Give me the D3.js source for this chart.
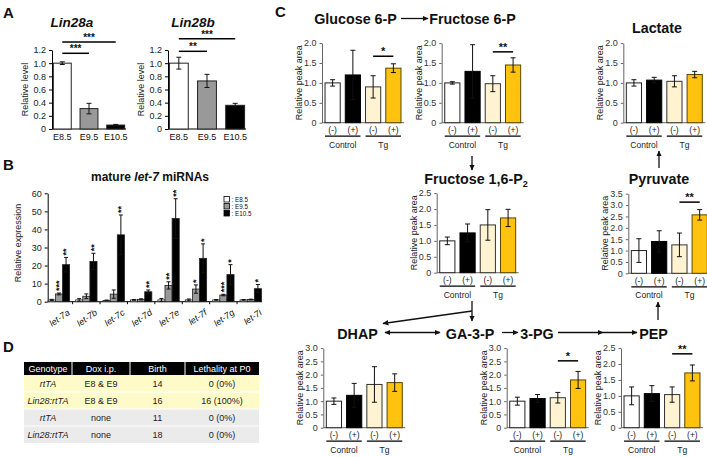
<!DOCTYPE html>
<html><head><meta charset="utf-8">
<script src="https://cdn.jsdelivr.net/npm/d3@7"></script>
<style>body{margin:0;background:#fff}svg{display:block}</style>
</head><body>
<svg id="fig" width="707" height="457"></svg>
<script>
// ---------------- DATA ----------------
// Panel A
const lin28Stages = ["E8.5", "E9.5", "E10.5"];
const lin28aMean = [1.0, 0.31, 0.06];
const lin28aErr  = [0.02, 0.08, 0.01];
const lin28bMean = [1.0, 0.73, 0.36];
const lin28bErr  = [0.09, 0.10, 0.03];
const lin28Ticks = [0, 0.2, 0.4, 0.6, 0.8, 1.0, 1.2];
const lin28aSig = [{a: 0, b: 1, level: 1.15, label: "***"}, {a: 0, b: 2, level: 1.32, label: "***"}];
const lin28bSig = [{a: 0, b: 1, level: 1.18, label: "**"}, {a: 0, b: 2, level: 1.37, label: "***"}];

// Panel B
const let7Names  = ["let-7a", "let-7b", "let-7c", "let-7d", "let-7e", "let-7f", "let-7g", "let-7i"];
const let7Stages = ["E8.5", "E9.5", "E10.5"];
const let7E85    = [1.0, 1.0, 0.7, 1.0, 1.0, 1.0, 1.0, 1.0];
const let7E85Err = [0.3, 0.7, 0.2, 0.2, 0.8, 0.5, 0.2, 0.2];
const let7E95    = [4.3, 3.0, 4.2, 1.3, 9.0, 7.0, 3.7, 1.2];
const let7E95Err = [0.5, 1.3, 2.3, 0.3, 2.0, 2.3, 0.4, 0.2];
const let7E105   = [20.5, 22.3, 37, 5.5, 46, 24, 15, 7.2];
const let7E105Err= [4.0, 4.5, 11, 1.0, 11, 8, 5.5, 2.3];
const let7Sig95  = ["***", "", "", "", "**", "*", "***", ""];
const let7Sig105 = ["**", "**", "**", "**", "**", "*", "*", "*"];
const let7Ticks  = [0, 10, 20, 30, 40, 50, 60];

// Panel C
const condLabels  = ["(-)", "(+)", "(-)", "(+)"];
const groupLabels = ["Control", "Tg"];
const g6pMean = [1.0, 1.2, 0.9, 1.37],  g6pErr = [0.08, 0.62, 0.28, 0.11];
const f6pMean = [1.0, 1.29, 0.98, 1.45], f6pErr = [0.03, 0.67, 0.20, 0.18];
const lacMean = [1.0, 1.07, 1.04, 1.21], lacErr = [0.08, 0.07, 0.14, 0.08];
const f16Mean = [1.0, 1.25, 1.5, 1.72],  f16Err = [0.12, 0.28, 0.48, 0.27];
const pyrMean = [1.0, 1.4, 1.25, 2.57],  pyrErr = [0.52, 0.47, 0.52, 0.23];
const dhapMean = [1.0, 1.22, 1.63, 1.7], dhapErr = [0.12, 0.45, 0.67, 0.33];
const pgMean  = [1.0, 1.1, 1.13, 1.8],   pgErr  = [0.15, 0.15, 0.20, 0.32];
const pepMean = [1.0, 1.07, 1.04, 1.72], pepErr = [0.28, 0.25, 0.24, 0.25];

// Panel D
const tableHeader = ["Genotype", "Dox i.p.", "Birth", "Lethality at P0"];
const tableGenotype = ["rtTA", "Lin28:rtTA", "rtTA", "Lin28:rtTA"];
const tableDox = ["E8 & E9", "E8 & E9", "none", "none"];
const tableBirth = ["14", "16", "11", "18"];
const tableLethality = ["0 (0%)", "16 (100%)", "0 (0%)", "0 (0%)"];

// ---------------- STYLE ----------------
const FONT = '"Liberation Sans", Arial, Helvetica, sans-serif';
const stageFill = ["#ffffff", "#999999", "#000000"];
const condFill = ["#ffffff", "#000000", "#fff3d2", "#ffc20e"];
const condStroke = ["#222", "#000", "#333", "#5a4500"];
const INK = "#111";

const svg = d3.select("#fig").attr("font-family", FONT);
const defs = svg.append("defs");
defs.append("marker").attr("id", "ah").attr("viewBox", "0 0 10 10")
  .attr("refX", 9).attr("refY", 5).attr("markerWidth", 6).attr("markerHeight", 6)
  .attr("markerUnits", "userSpaceOnUse").attr("orient", "auto-start-reverse")
  .append("path").attr("d", "M0,0.5 L10,5 L0,9.5 z").attr("fill", INK);

function txt(g, x, y, s, o = {}) {
  return g.append("text").attr("x", x).attr("y", y).text(s)
    .attr("font-size", o.size || 9).attr("text-anchor", o.anchor || "middle")
    .attr("font-weight", o.weight || "normal").attr("font-style", o.style || "normal")
    .attr("fill", o.fill || INK);
}
function styleAxis(ax, col, size) {
  ax.attr("font-family", FONT);
  ax.select(".domain").attr("stroke", col);
  ax.selectAll(".tick line").attr("stroke", col);
  ax.selectAll(".tick text").attr("font-size", size).attr("fill", "#222");
}
function errBars(g, xs, ys, means, errs, cap) {
  means.forEach((m, i) => {
    const cx = xs(i), t = ys(m + errs[i]), b = ys(Math.max(0, m - errs[i]));
    g.append("line").attr("x1", cx).attr("x2", cx).attr("y1", t).attr("y2", b).attr("stroke", INK).attr("stroke-width", 1);
    [t, b].forEach(yy => g.append("line").attr("x1", cx - cap).attr("x2", cx + cap).attr("y1", yy).attr("y2", yy).attr("stroke", INK).attr("stroke-width", 1));
  });
}
function vlabel(g, x, y, s, size) {
  g.append("text").attr("transform", `translate(${x},${y}) rotate(-90)`).attr("text-anchor", "middle")
    .attr("dy", "0.35em").attr("font-size", size).attr("fill", "#222").text(s);
}
function arrow(x1, y1, x2, y2, both) {
  const l = svg.append("line").attr("x1", x1).attr("y1", y1).attr("x2", x2).attr("y2", y2)
    .attr("stroke", INK).attr("stroke-width", 1.3).attr("marker-end", "url(#ah)");
  if (both) l.attr("marker-start", "url(#ah)");
}

// ---------------- PANEL LETTERS ----------------
[["A", 3, 18], ["B", 3, 170], ["C", 275, 17], ["D", 3, 352]].forEach(([s, x, y]) =>
  txt(svg, x, y, s, {size: 15, weight: "bold", anchor: "start"}));

// ---------------- PANEL A ----------------
function lin28Panel(cfg, means, errs, title, sigs) {
  const g = svg.append("g");
  const y = d3.scaleLinear().domain([0, 1.2]).range([cfg.yZero, cfg.yTop]);
  const x = d3.scaleBand().domain(lin28Stages).range([cfg.x0, cfg.x1]).paddingInner(0.33).paddingOuter(0.05);
  const ax = g.append("g").attr("transform", `translate(${cfg.x0},0)`)
    .call(d3.axisLeft(y).tickValues(lin28Ticks).tickSize(3).tickSizeOuter(0)
      .tickFormat(d => d === 0 ? "0" : d3.format(".1f")(d)));
  styleAxis(ax, "#000", 9);
  g.append("line").attr("x1", cfg.x0).attr("x2", cfg.x1).attr("y1", cfg.yZero).attr("y2", cfg.yZero).attr("stroke", "#000");
  g.selectAll("rect.b").data(means).join("rect").attr("class", "b")
    .attr("x", (d, i) => x(lin28Stages[i])).attr("width", x.bandwidth())
    .attr("y", d => y(d)).attr("height", d => cfg.yZero - y(d))
    .attr("fill", (d, i) => stageFill[i]).attr("stroke", "#222").attr("stroke-width", 1);
  const cx = i => x(lin28Stages[i]) + x.bandwidth() / 2;
  errBars(g, cx, y, means, errs, 2.5);
  lin28Stages.forEach((s, i) => txt(g, cx(i), cfg.yZero + 11, s, {size: 9}));
  sigs.forEach(s => {
    g.append("line").attr("x1", cx(s.a)).attr("x2", cx(s.b)).attr("y1", y(s.level)).attr("y2", y(s.level))
      .attr("stroke", "#000").attr("stroke-width", 1.5);
    txt(g, (cx(s.a) + cx(s.b)) / 2, y(s.level) - 1, s.label, {size: 10, weight: "bold"});
  });
  vlabel(g, cfg.x0 - 27, (cfg.yZero + cfg.yTop) / 2, "Relative level", 9);
  txt(g, cfg.tx, 27, title, {size: 13.5, weight: "bold", style: "italic"});
}
lin28Panel({x0: 52, x1: 126, yZero: 129, yTop: 50, tx: 72}, lin28aMean, lin28aErr, "Lin28a", lin28aSig);
lin28Panel({x0: 168, x1: 246, yZero: 129, yTop: 50, tx: 193}, lin28bMean, lin28bErr, "Lin28b", lin28bSig);

// ---------------- PANEL B ----------------
(function () {
  const g = svg.append("g");
  const yZ = 301.7;
  const y = d3.scaleLinear().domain([0, 60]).range([yZ, 193.3]);
  const x0 = d3.scaleBand().domain(let7Names).range([47.7, 262]).paddingInner(0.22).paddingOuter(0.02);
  const x1 = d3.scaleBand().domain(let7Stages).range([0, x0.bandwidth()]);
  const ax = g.append("g").attr("transform", "translate(47.7,0)")
    .call(d3.axisLeft(y).tickValues(let7Ticks).tickSize(3).tickSizeOuter(0));
  styleAxis(ax, "#000", 9);
  g.append("line").attr("x1", 47.7).attr("x2", 262).attr("y1", yZ).attr("y2", yZ).attr("stroke", "#000");
  let7Names.forEach((n, i) => {
    if (i === 0) return;
    const bx = x0(n) - x0.step() * x0.paddingInner() / 2;
    g.append("line").attr("x1", bx).attr("x2", bx).attr("y1", yZ).attr("y2", yZ + 2.5).attr("stroke", "#000");
  });
  const series = [[let7E85, let7E85Err], [let7E95, let7E95Err], [let7E105, let7E105Err]];
  series.forEach(([vals, errs], si) => {
    const st = let7Stages[si];
    const cx = i => x0(let7Names[i]) + x1(st) + x1.bandwidth() / 2;
    g.selectAll("rect.s" + si).data(vals).join("rect").attr("class", "s" + si)
      .attr("x", (d, i) => x0(let7Names[i]) + x1(st)).attr("width", x1.bandwidth())
      .attr("y", d => y(d)).attr("height", d => yZ - y(d))
      .attr("fill", stageFill[si]).attr("stroke", "#222").attr("stroke-width", 0.8);
    errBars(g, cx, y, vals, errs, 2);
    const sig = si === 1 ? let7Sig95 : si === 2 ? let7Sig105 : null;
    if (sig) sig.forEach((s, i) => {
      if (!s) return;
      g.append("text").attr("transform", `translate(${cx(i)},${y(vals[i] + errs[i]) - 2}) rotate(-90)`)
        .attr("text-anchor", "start").attr("dy", "0.38em").attr("font-size", 9).attr("font-weight", "bold")
        .attr("fill", INK).text(s);
    });
  });
  let7Names.forEach(n => {
    const cx = x0(n) + x0.bandwidth() / 2;
    g.append("text").attr("transform", `translate(${cx + 8},${yZ + 7}) rotate(-35)`)
      .attr("text-anchor", "end").attr("dy", "0.7em").attr("font-size", 9).attr("font-style", "italic")
      .attr("fill", INK).text(n);
  });
  vlabel(g, 18, 243, "Relative expression", 9);
  const t = g.append("text").attr("x", 150).attr("y", 181).attr("text-anchor", "middle")
    .attr("font-size", 12).attr("font-weight", "bold").attr("fill", INK);
  t.append("tspan").text("mature ");
  t.append("tspan").attr("font-style", "italic").text("let-7");
  t.append("tspan").text(" miRNAs");
  // legend
  let7Stages.forEach((s, i) => {
    g.append("rect").attr("x", 224).attr("y", 196.5 + i * 7).attr("width", 5.5).attr("height", 5.5)
      .attr("fill", stageFill[i]).attr("stroke", "#000").attr("stroke-width", 0.8);
    txt(g, 231.5, 202 + i * 7, ": " + s, {size: 6.3, anchor: "start"});
  });
})();

// ---------------- PANEL D ----------------
(function () {
  const g = svg.append("g");
  const cols = [24, 72, 130, 185, 259];
  const hTop = 362, hH = 13, rH = 17;
  g.append("rect").attr("x", cols[0]).attr("y", hTop).attr("width", cols[4] - cols[0]).attr("height", hH).attr("fill", "#000");
  tableHeader.forEach((h, i) => {
    txt(g, (cols[i] + cols[i + 1]) / 2, hTop + 9.8, h, {size: 9, fill: "#fff"});
    if (i > 0) g.append("line").attr("x1", cols[i]).attr("x2", cols[i]).attr("y1", hTop).attr("y2", hTop + hH).attr("stroke", "#fff").attr("stroke-width", 1);
  });
  const rowFill = ["#fffbc8", "#fffbc8", "#ebebeb", "#ebebeb"];
  tableGenotype.forEach((gt, r) => {
    const y0 = hTop + hH + r * rH;
    g.append("rect").attr("x", cols[0]).attr("y", y0).attr("width", cols[4] - cols[0]).attr("height", rH).attr("fill", rowFill[r]);
    if (r > 0) g.append("line").attr("x1", cols[0]).attr("x2", cols[4]).attr("y1", y0).attr("y2", y0).attr("stroke", "#fff").attr("stroke-width", 1);
    const cells = [gt, tableDox[r], tableBirth[r], tableLethality[r]];
    cells.forEach((c, ci) => txt(g, (cols[ci] + cols[ci + 1]) / 2, y0 + 11.8, c, {size: 9, style: ci === 0 ? "italic" : "normal", fill: "#222"}));
  });
})();

// ---------------- PANEL C ----------------
function metaChart(cfg, means, errs, sig) {
  const g = svg.append("g");
  const y = d3.scaleLinear().domain([0, cfg.max]).range([cfg.yZero, cfg.yZero - 79.6]);
  const x = d3.scaleBand().domain(d3.range(condLabels.length)).range([cfg.x0 + 1, cfg.x0 + 81]).paddingInner(0.25).paddingOuter(0.1);
  const ax = g.append("g").attr("transform", `translate(${cfg.x0},0)`)
    .call(d3.axisLeft(y).tickValues(d3.range(0, cfg.max + 1e-9, 0.5)).tickSize(2.5).tickSizeOuter(0)
      .tickFormat(d => d === 0 ? "0" : d3.format(".1f")(d)));
  styleAxis(ax, "#666", 9);
  ax.selectAll(".tick text").attr("fill", "#333");
  g.append("line").attr("x1", cfg.x0).attr("x2", cfg.x0 + 82).attr("y1", cfg.yZero).attr("y2", cfg.yZero).attr("stroke", "#666");
  g.selectAll("rect.b").data(means).join("rect").attr("class", "b")
    .attr("x", (d, i) => x(i)).attr("width", x.bandwidth())
    .attr("y", d => y(d)).attr("height", d => cfg.yZero - y(d))
    .attr("fill", (d, i) => condFill[i]).attr("stroke", (d, i) => condStroke[i]).attr("stroke-width", 1);
  const cx = i => x(i) + x.bandwidth() / 2;
  errBars(g, cx, y, means, errs, 2.5);
  condLabels.forEach((s, i) => txt(g, cx(i), cfg.yZero + 10.5, s, {size: 8.5, fill: "#222"}));
  groupLabels.forEach((s, k) => {
    const a = x(2 * k), b = x(2 * k + 1) + x.bandwidth();
    g.append("line").attr("x1", a).attr("x2", b).attr("y1", cfg.yZero + 13.5).attr("y2", cfg.yZero + 13.5).attr("stroke", "#000").attr("stroke-width", 1.3);
    txt(g, (a + b) / 2, cfg.yZero + 25, s, {size: 8.5, fill: "#222"});
  });
  vlabel(g, cfg.x0 - 23, cfg.yZero - 40, "Relative peak area", 9);
  if (sig) {
    g.append("line").attr("x1", cx(sig.a)).attr("x2", cx(sig.b)).attr("y1", y(sig.level)).attr("y2", y(sig.level)).attr("stroke", "#000").attr("stroke-width", 1.5);
    txt(g, (cx(sig.a) + cx(sig.b)) / 2, y(sig.level) - 1, sig.label, {size: 11, weight: "bold"});
  }
}
metaChart({x0: 322, yZero: 122.7, max: 2.0}, g6pMean, g6pErr, {a: 2, b: 3, level: 1.67, label: "*"});
metaChart({x0: 441.7, yZero: 122.7, max: 2.0}, f6pMean, f6pErr, {a: 2, b: 3, level: 1.78, label: "**"});
metaChart({x0: 623.3, yZero: 122.7, max: 2.0}, lacMean, lacErr, null);
metaChart({x0: 436.7, yZero: 272.7, max: 2.5}, f16Mean, f16Err, null);
metaChart({x0: 628.3, yZero: 273.3, max: 3.5}, pyrMean, pyrErr, {a: 2, b: 3, level: 3.13, label: "**"});
metaChart({x0: 323.3, yZero: 427.7, max: 3.0}, dhapMean, dhapErr, null);
metaChart({x0: 506.7, yZero: 427.7, max: 3.0}, pgMean, pgErr, {a: 2, b: 3, level: 2.52, label: "*"});
metaChart({x0: 621, yZero: 427.7, max: 2.5}, pepMean, pepErr, {a: 2, b: 3, level: 2.32, label: "**"});

// metabolite names
const T = {size: 14.3, weight: "bold"};
txt(svg, 355.5, 24, "Glucose 6-P", T);
txt(svg, 472.5, 24, "Fructose 6-P", T);
txt(svg, 657, 33, "Lactate", T);
const f16t = txt(svg, 476, 184, "Fructose 1,6-P", T);
f16t.append("tspan").attr("font-size", 9).attr("dy", 3).text("2");
txt(svg, 659, 184, "Pyruvate", T);
txt(svg, 357.5, 339, "DHAP", T);
txt(svg, 470, 339, "GA-3-P", T);
txt(svg, 537, 339, "3-PG", T);
txt(svg, 653.5, 339, "PEP", T);

// pathway arrows
arrow(401, 18.5, 428, 18.5);
arrow(472, 156, 472, 170);
svg.append("line").attr("x1", 472).attr("x2", 472).attr("y1", 301).attr("y2", 311).attr("stroke", INK).attr("stroke-width", 1.3);
arrow(472, 311, 472, 321);
arrow(472, 311, 383, 323.5);
arrow(385, 332.5, 440, 332.5, true);
arrow(502, 332.5, 518, 332.5);
arrow(558, 332.5, 603, 332.5);
arrow(603, 332.5, 637, 332.5);
arrow(658, 320, 658, 302);
arrow(659, 168, 659, 151);
</script>
</body></html>
